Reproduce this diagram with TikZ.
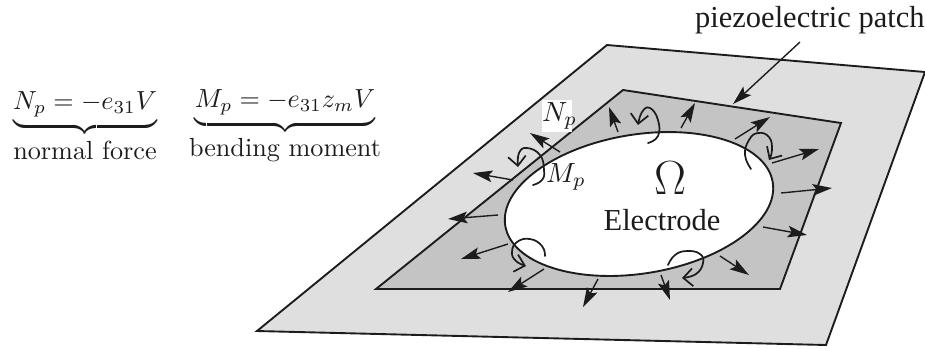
\documentclass[tikz,border=0pt]{standalone}
\usepackage{fontspec}
\usetikzlibrary{arrows.meta,bending}
\newfontfamily\timesf{Liberation Serif}
\definecolor{sheetgray}{HTML}{DFDFDF}
\definecolor{patchgray}{HTML}{C4C4C4}
\definecolor{inkc}{HTML}{1C1C1C}
\tikzset{
  edge/.style={draw=inkc,line width=0.68pt,line join=miter},
  force/.style={draw=inkc,line width=0.5pt,-{Stealth[length=7pt,width=4.2pt,inset=1.4pt]}},
  moment/.style={draw=inkc,line width=0.62pt,line cap=round,-{Straight Barb[length=3.4pt,width=6.4pt,flex=0]}},
  label/.style={inner sep=0pt,text=inkc},
}
\begin{document}
\begin{tikzpicture}[x=0.361pt,y=-0.361pt]
\useasboundingbox (0,0) rectangle (925,348);
% plate
\coordinate (s1) at (607,45);
\coordinate (s2) at (925,72);
\coordinate (s3) at (826,345);
\coordinate (s4) at (257,331);
\filldraw[edge,fill=sheetgray] (s1) -- (s2) -- (s3) -- (s4) -- cycle;
% patch
\coordinate (p1) at (623,90);
\coordinate (p2) at (841,123);
\coordinate (p3) at (780,289);
\coordinate (p4) at (376,289);
\filldraw[edge,fill=patchgray] (p1) -- (p2) -- (p3) -- (p4) -- cycle;
% electrode
\filldraw[edge,fill=white,shift={(639,204)},rotate=9.2] (0,0) ellipse [x radius=135.5,y radius=69.5];
% normal forces
\foreach \ax/\ay/\bx/\by in {560/152/530/133,513/180/473/173,618/132/609/107,681/128/695/103,735/139/770/117,772/163/819/149,781/193/832/188,763/227/807/235,720/256/749/275,661/275/670/300,598/279/583/307,544/269/508/292,508/244/461/259,498/215/448/219}
  \draw[force] (\ax,\ay) -- (\bx,\by);
% bending moments
\draw[moment] plot[smooth,tension=0.8] coordinates {(648,143) (658,136) (658,120) (650,108) (642,112) (638,125)};
\draw[moment] plot[smooth,tension=0.8] coordinates {(751,169) (745,155) (749,140) (758,133) (769,137) (772,150) (769,160)};
\draw[moment] plot[smooth,tension=0.8] coordinates {(668,265) (675,255) (687,251) (700,254) (703,263) (696,274) (682,278)};
\draw[moment] plot[smooth,tension=0.8] coordinates {(545,256) (542,246) (530,239) (517,242) (512,252) (516,261) (526,266)};
\draw[moment] plot[smooth,tension=0.8] coordinates {(533,185) (542,180) (544,170) (540,155) (527,148) (519,153) (518,167)};
% labels
\node[label,fill=white,text width=10.8pt,align=center,minimum height=11.8pt] (np) at (557,116) {$N_p$};
\node[label] (mp) at (566,177) {$M_p$};
\node[label] (om) at (670,178) {\fontsize{18}{20}\selectfont $\Omega$};
\node[label] (el) at (662,220) {\timesf\fontsize{11}{13}\selectfont Electrode};
\node[label,anchor=east] (pz) at (925,20) {\timesf\fontsize{11}{13}\selectfont piezoelectric patch};
\coordinate (pzs) at (800,42);
\coordinate (pze) at (733,104);
\draw[force] (pzs) -- (pze);
\node[label,scale=0.945] (f1) at (85,127) {$\underbrace{N_p=-e_{31}V}_{\mbox{normal force}}$};
\node[label,scale=0.945] (f2) at (285,127) {$\underbrace{M_p=-e_{31}z_mV}_{\mbox{bending moment}}$};
\end{tikzpicture}
\end{document}
